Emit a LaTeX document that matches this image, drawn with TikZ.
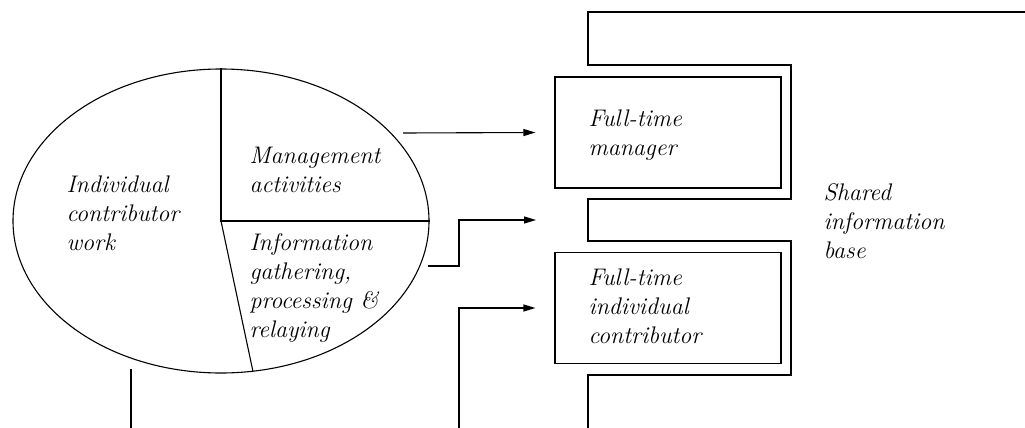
\documentclass[tikz,border=0pt]{standalone}
\usetikzlibrary{arrows.meta,shapes.geometric}
\begin{document}
\begin{tikzpicture}[x=1pt,y=-1pt,
  line width=1.1pt,
  lbl/.style={font=\fontsize{24}{29}\selectfont\itshape, align=left,
    inner sep=0pt, anchor=base west},
  unit/.style={draw, minimum width=226pt, minimum height=111pt, inner sep=0pt},
  flow/.style={-{Triangle[length=12pt,width=7pt]}}]
\useasboundingbox (0,0) rectangle (1025,428);

% time split of a middle manager's work
\node[ellipse, draw, minimum width=416pt, minimum height=304pt, inner sep=0pt]
  (pie) at (221,221) {};
\coordinate (c) at (pie.center);
\draw (pie.north) -- (c) -- (pie.east);
\draw (c) -- (pie.-78.6);

% labels are anchored on the baseline of their last line
\node[lbl] (indiv) at (66,250) {Individual\\contributor\\work};
\node[lbl] (mgmt) at (249,192) {Management\\activities};
\node[lbl] (info) at (249,337) {Information\\gathering,\\processing \&\\relaying};

% the two full-time roles
\node[unit] (mgr) at (668,132.5) {};
\node[unit] (ic) at (668,308) {};
\node[lbl] at (588,155) {Full-time\\manager};
\node[lbl] at (588,343) {Full-time\\individual\\contributor};

% shared information base wrapping round the roles
\draw (1025,12) -- (588,12) -- (588,65) -- (791,65) -- (791,199) -- (588,199)
  -- (588,241) -- (791,241) -- (791,375) -- (588,375) -- (588,428);
\node[lbl] (base) at (823,258) {Shared\\information\\base};

% connectors
\coordinate (a1) at (403,133);
\coordinate (a2) at (428,266);
\coordinate (a3) at (459,428);
\coordinate (gap) at (536,220);
\coordinate (l1) at (131,369);
\coordinate (l2) at (131,428);
\draw[flow] (a1) -- ([xshift=-19pt]mgr.west);
\draw[flow] (a2) -- (a2 -| a3) |- (gap);
\draw[flow] (a3) |- ([xshift=-19pt]ic.west);
\draw (l1) -- (l2);
\end{tikzpicture}
\end{document}
